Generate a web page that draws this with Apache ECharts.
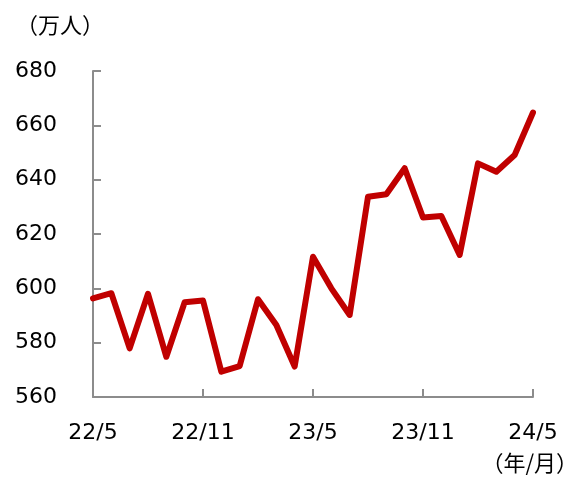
<!DOCTYPE html>
<html>
<head>
<meta charset="utf-8">
<script src="https://cdn.jsdelivr.net/npm/echarts@6/dist/echarts.min.js"></script>
<style>
  html, body { margin: 0; padding: 0; background: #fff; }
  #chart { width: 569px; height: 478px; }
</style>
</head>
<body>
<div id="chart"></div>
<script>
// 月份（年/月）
const months = [
  '22/5', '22/6', '22/7', '22/8', '22/9', '22/10', '22/11', '22/12',
  '23/1', '23/2', '23/3', '23/4', '23/5', '23/6', '23/7', '23/8',
  '23/9', '23/10', '23/11', '23/12', '24/1', '24/2', '24/3', '24/4', '24/5'
]
// 人数（万人）
const persons = [
  596.3, 598.2, 577.9, 598.0, 574.8, 594.9, 595.5, 569.3,
  571.4, 596.0, 586.5, 571.2, 611.6, 600.0, 590.2, 633.7,
  634.6, 644.2, 626.1, 626.6, 612.3, 646.0, 642.9, 649.1, 664.7
]
const yTicks = { min: 560, max: 680, interval: 20 }

const font = '"DejaVu Sans", Verdana, sans-serif'
const cjkFont = '"Noto Sans CJK JP", sans-serif'
const axisColor = '#8c8c8c'

const chart = echarts.init(document.getElementById('chart'))
chart.setOption({
  animation: false,
  grid: { left: 93, right: 36, top: 71, bottom: 81, containLabel: false },
  xAxis: {
    type: 'category',
    data: months,
    boundaryGap: false,
    axisLine: { lineStyle: { color: axisColor, width: 2 } },
    axisTick: { inside: true, length: 8, interval: 5, lineStyle: { color: axisColor, width: 2 } },
    axisLabel: { interval: 5, margin: 25, color: '#000', fontSize: 22, fontFamily: font }
  },
  yAxis: {
    type: 'value',
    min: yTicks.min,
    max: yTicks.max,
    interval: yTicks.interval,
    splitLine: { show: false },
    axisLine: { show: true, lineStyle: { color: axisColor, width: 2 } },
    axisTick: { show: true, inside: true, length: 8, lineStyle: { color: axisColor, width: 2 } },
    axisLabel: { margin: 36, color: '#000', fontSize: 22, fontFamily: font }
  },
  series: [{
    type: 'line',
    data: persons,
    symbol: 'none',
    lineStyle: { color: '#c00000', width: 6, join: 'round', cap: 'round' }
  }],
  graphic: [
    {
      type: 'text', left: 16, top: 14,
      style: { text: '（万人）', fill: '#000', font: '22px ' + cjkFont }
    },
    {
      type: 'text', right: -9, top: 452,
      style: { text: '（年/月）', fill: '#000', font: '22px ' + cjkFont }
    }
  ]
})
</script>
</body>
</html>
